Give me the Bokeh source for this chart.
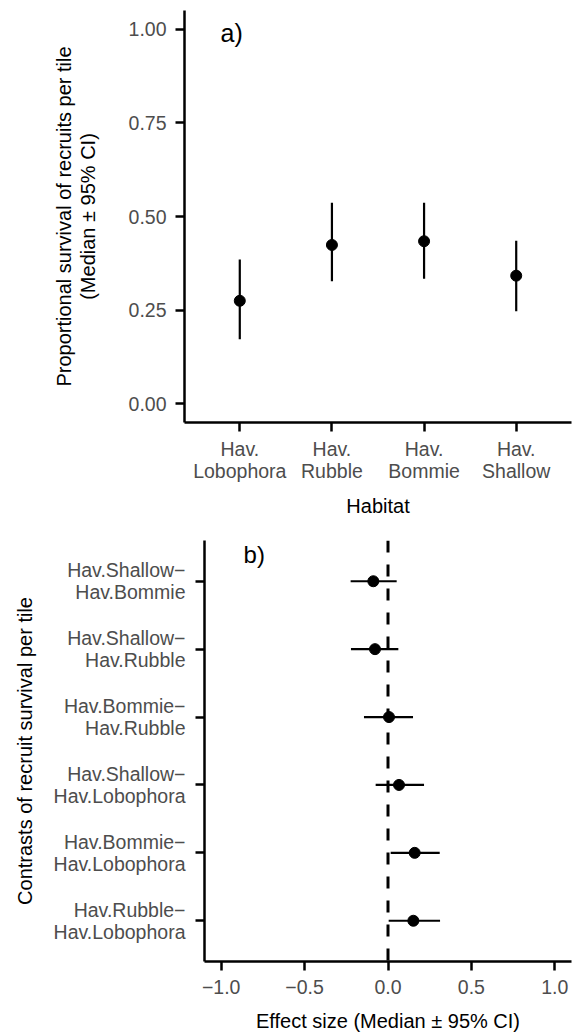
from bokeh.plotting import figure
from bokeh.models import FactorRange, Range1d, FixedTicker, Span, Label, ColumnDataSource
from bokeh.embed import file_html
from bokeh.resources import INLINE

# ---- Panel a) data ----
habitats = ["Hav.\nLobophora", "Hav.\nRubble", "Hav.\nBommie", "Hav.\nShallow"]
surv_median = [0.275, 0.424, 0.434, 0.342]
surv_lower = [0.172, 0.327, 0.334, 0.247]
surv_upper = [0.385, 0.537, 0.537, 0.435]
surv_ticks = [0.0, 0.25, 0.5, 0.75, 1.0]
surv_tick_labels = ["0.00", "0.25", "0.50", "0.75", "1.00"]

# ---- Panel b) data (bottom to top) ----
contrasts = ["Hav.Rubble\u2212\nHav.Lobophora", "Hav.Bommie\u2212\nHav.Lobophora",
             "Hav.Shallow\u2212\nHav.Lobophora", "Hav.Bommie\u2212\nHav.Rubble",
             "Hav.Shallow\u2212\nHav.Rubble", "Hav.Shallow\u2212\nHav.Bommie"]
eff_median = [0.152, 0.160, 0.066, 0.006, -0.078, -0.088]
eff_lower = [0.004, 0.016, -0.074, -0.144, -0.222, -0.224]
eff_upper = [0.312, 0.310, 0.216, 0.150, 0.062, 0.052]
eff_ticks = [-1.0, -0.5, 0.0, 0.5, 1.0]
eff_tick_labels = ["\u22121.0", "\u22120.5", "0.0", "0.5", "1.0"]

FONT = "Liberation Sans"


def style(p):
    p.grid.visible = False
    p.outline_line_color = None
    p.background_fill_color = "white"
    p.border_fill_color = "white"
    for ax in p.axis:
        ax.axis_line_color = "black"
        ax.axis_line_width = 2.5
        ax.major_tick_line_color = "black"
        ax.major_tick_line_width = 2.5
        ax.major_tick_out = 9
        ax.major_tick_in = 0
        ax.minor_tick_line_color = None
        ax.major_label_text_font = FONT
        ax.major_label_text_font_size = "19.5px"
        ax.major_label_text_color = "#4d4d4d"
        ax.major_label_text_line_height = 1.02
        ax.axis_label_text_font = FONT
        ax.axis_label_text_font_size = "20px"
        ax.axis_label_text_font_style = "normal"
        ax.axis_label_text_color = "black"
        ax.axis_label_text_line_height = 1.05


# ---------------- Panel a ----------------
p1 = figure(width=573, height=520, output_backend="svg", toolbar_location=None,
            x_range=FactorRange(*habitats, range_padding=0.1, range_padding_units="absolute"),
            y_range=Range1d(-0.05, 1.05),
            min_border_left=184, min_border_right=2, min_border_top=10, min_border_bottom=98)
style(p1)
src1 = ColumnDataSource(dict(h=habitats, m=surv_median, lo=surv_lower, hi=surv_upper))
p1.segment(x0="h", y0="lo", x1="h", y1="hi", source=src1, line_color="black", line_width=2.2)
p1.scatter(x="h", y="m", source=src1, size=11, color="black")
p1.yaxis.ticker = FixedTicker(ticks=surv_ticks)
p1.yaxis.major_label_overrides = dict(zip(surv_ticks, surv_tick_labels))
p1.yaxis.axis_label = "Proportional survival of recruits per tile\n(Median \u00b1 95% CI)"
p1.xaxis.axis_label = "Habitat"
p1.yaxis.major_label_standoff = 9
p1.xaxis.major_label_standoff = 6
p1.yaxis.axis_label_standoff = 27
p1.xaxis.axis_label_standoff = 10
p1.add_layout(Label(x=0.291, y=0.989, text="a)", text_font=FONT, text_font_size="25px",
                    text_color="black", text_baseline="middle"))

# ---------------- Panel b ----------------
p2 = figure(width=573, height=514, output_backend="svg", toolbar_location=None,
            y_range=FactorRange(*contrasts, range_padding=0.1, range_padding_units="absolute"),
            x_range=Range1d(-1.1, 1.1),
            min_border_left=204, min_border_right=2, min_border_top=20, min_border_bottom=68)
style(p2)
src2 = ColumnDataSource(dict(c=contrasts, m=eff_median, lo=eff_lower, hi=eff_upper))
p2.add_layout(Span(location=0, dimension="height", line_color="black", line_width=3,
                   line_dash="12 12"))
p2.segment(x0="lo", y0="c", x1="hi", y1="c", source=src2, line_color="black", line_width=2.2)
p2.scatter(x="m", y="c", source=src2, size=11, color="black")
p2.xaxis.ticker = FixedTicker(ticks=eff_ticks)
p2.xaxis.major_label_overrides = dict(zip(eff_ticks, eff_tick_labels))
p2.yaxis.axis_label = "Contrasts of recruit survival per tile"
p2.xaxis.axis_label = "Effect size (Median \u00b1 95% CI)"
p2.yaxis.major_label_standoff = 10
p2.xaxis.major_label_standoff = 9
p2.yaxis.axis_label_standoff = 15
p2.xaxis.axis_label_standoff = 13
p2.add_layout(Label(x=-0.866, y=5.896, text="b)", text_font=FONT, text_font_size="24px",
                    text_color="black", text_baseline="middle"))

open("out.html", "w").write(file_html([p1, p2], INLINE))
